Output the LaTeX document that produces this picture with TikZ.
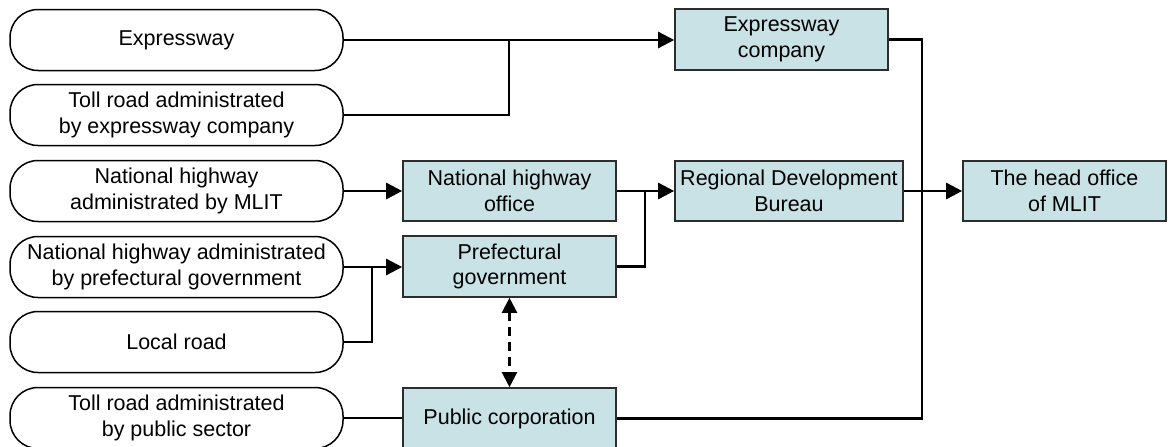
\documentclass[tikz,border=0pt]{standalone}
\usepackage{fontspec}
\setmainfont{Liberation Sans}
\usetikzlibrary{arrows.meta}
\definecolor{boxfill}{RGB}{200,226,230}
\definecolor{boxline}{RGB}{45,45,45}
\tikzset{
  pill/.style={draw=black, line width=1.5pt, rounded corners=28pt, minimum width=333pt, minimum height=61pt, align=center, font=\fontsize{21.5}{25.5}\selectfont, inner sep=0pt},
  orgbox/.style={draw=boxline, fill=boxfill, line width=1.6pt, minimum height=60pt, align=center, font=\fontsize{21.5}{25.5}\selectfont, inner sep=0pt},
  ln/.style={line width=2.2pt, black},
  arr/.style={line width=2.6pt, black, -{Triangle[length=16pt,width=16pt]}},
  thinln/.style={line width=1.6pt, black},
  darr/.style={line width=2.2pt, black, dash pattern=on 9pt off 6pt, {Triangle[length=15pt,width=15pt]}-{Triangle[length=15pt,width=15pt]}}
}
\begin{document}
\begin{tikzpicture}[x=1pt,y=-1pt]
\useasboundingbox (0,0) rectangle (1168,447);
\clip (0,0) rectangle (1168,447);
% left pills
\node[pill] (p1) at (176.5,40) {Expressway};
\node[pill] (p2) at (176.5,115) {Toll road administrated\\by expressway company};
\node[pill] (p3) at (176.5,191) {National highway\\administrated by MLIT};
\node[pill] (p4) at (176.5,267) {National highway administrated\\by prefectural government};
\node[pill] (p5) at (176.5,342) {Local road};
\node[pill] (p6) at (176.5,418) {Toll road administrated\\by public sector};
% organisation boxes
\node[orgbox, minimum width=213pt, minimum height=61pt] (ec) at (781.5,39.5) {Expressway\\company};
\node[orgbox, minimum width=213pt] (nho) at (509.5,191) {National highway\\office};
\node[orgbox, minimum width=228pt] (rdb) at (789,191) {Regional Development\\Bureau};
\node[orgbox, minimum width=203pt] (ho) at (1064.5,191) {The head office\\of MLIT};
\node[orgbox, minimum width=213pt, minimum height=61pt] (pg) at (509.5,266.5) {Prefectural\\government};
\node[orgbox, minimum width=213pt, minimum height=61pt] (pc) at (509.5,418.5) {Public corporation};
% junction coordinates
\coordinate (j1) at (509,40);
\coordinate (j2) at (372,267);
\coordinate (j3) at (645,191);
\coordinate (j4) at (922,0);
% connectors
\draw[arr] (p1.east) -- (p1.east -| ec.west);
\draw[ln] (p2.east) -| (j1);
\draw[arr] (p3.east) -- (p3.east -| nho.west);
\draw[arr] (p4.east) -- (p4.east -| pg.west);
\draw[ln] (p5.east) -| (j2);
\draw[arr] (nho.east) -- (nho.east -| rdb.west);
\draw[ln] (pg.east) -| (j3);
\draw[arr] (rdb.east) -- (rdb.east -| ho.west);
\draw[ln] (ec.east) -| (j4 |- pc.east) -- (pc.east);
\draw[thinln] (p6.east) -- (p6.east -| pc.west);
\draw[darr] (pg.south) -- (pc.north);
\end{tikzpicture}
\end{document}
